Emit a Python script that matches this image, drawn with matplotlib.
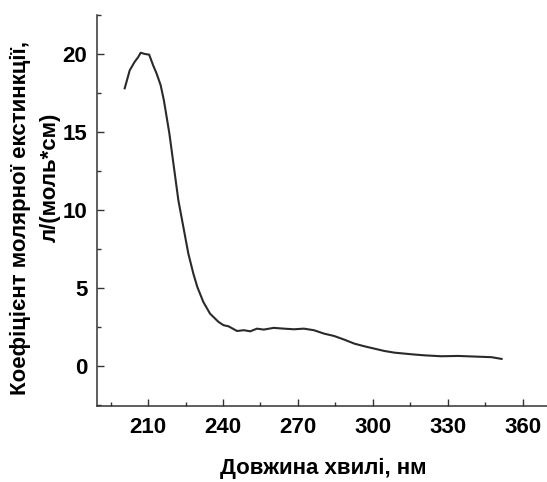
import matplotlib
matplotlib.use("Agg")
import matplotlib.pyplot as plt
from matplotlib.ticker import MultipleLocator

wavelength = [200.6, 202.6, 204.6, 206.0, 207.0, 208.7, 210.4, 212.0, 213.4, 215.0,
              216.3, 218.5, 220.3, 222.1, 224.1, 226.1, 228.1, 229.7, 232.1, 234.8,
              238.2, 240.2, 242.2, 245.6, 248.3, 250.9, 253.6, 256.3, 260.3, 264.4,
              268.4, 272.4, 276.4, 280.5, 284.5, 288.5, 292.6, 296.6, 300.6, 304.6,
              308.7, 312.7, 316.7, 320.7, 327.4, 334.2, 340.9, 347.6, 351.6]
extinction = [17.8, 18.95, 19.5, 19.8, 20.08, 20.0, 19.96, 19.27, 18.74, 18.0,
              17.03, 14.9, 12.76, 10.62, 8.91, 7.2, 5.92, 5.06, 4.1, 3.35,
              2.82, 2.61, 2.54, 2.24, 2.29, 2.22, 2.39, 2.33, 2.44, 2.39,
              2.35, 2.39, 2.29, 2.07, 1.92, 1.69, 1.43, 1.26, 1.11, 0.96,
              0.85, 0.79, 0.73, 0.68, 0.62, 0.64, 0.60, 0.56, 0.45]

x_ticks = [210, 240, 270, 300, 330, 360]
y_ticks = [0, 5, 10, 15, 20]

plt.rcParams['font.family'] = ['Liberation Sans', 'DejaVu Sans']
plt.rcParams['font.weight'] = 'bold'

fig = plt.figure(figsize=(5.47, 4.82), dpi=100)
ax = fig.add_axes([97/547, 1-405.7/482, 1-97/547, (405.7-15)/482])
ax.plot(wavelength, extinction, color='#2a2a2a', lw=1.5)

ax.set_xlim(189.5, 369.8)
ax.set_ylim(-2.55, 22.5)
ax.set_xticks(x_ticks)
ax.set_yticks(y_ticks)
ax.xaxis.set_minor_locator(MultipleLocator(15))
ax.yaxis.set_minor_locator(MultipleLocator(2.5))
for s in ['top', 'right']:
    ax.spines[s].set_visible(False)
for s in ['left', 'bottom']:
    ax.spines[s].set_color('#333333')
    ax.spines[s].set_linewidth(1.1)
ax.tick_params(which='major', direction='in', length=5, width=1, color='#333333',
               labelsize=16)
ax.tick_params(which='minor', direction='in', length=3, width=1, color='#333333')
ax.tick_params(axis='x', which='major', pad=8)
ax.tick_params(axis='y', which='major', pad=7)
for lab in ax.get_xticklabels() + ax.get_yticklabels():
    lab.set_fontweight('bold')

fig.text(323/547, 1-468/482, 'Довжина хвилі, нм', ha='center', va='center',
         fontsize=16, fontweight='bold')
fig.text(20/547, 1-218/482, 'Коефіцієнт молярної екстинкції,', ha='center', va='center',
         rotation=90, fontsize=16, fontweight='bold')
fig.text(50/547, 1-177/482, 'л/(моль*см)', ha='center', va='center',
         rotation=90, fontsize=16, fontweight='bold')

fig.savefig('out.png', dpi=100)
